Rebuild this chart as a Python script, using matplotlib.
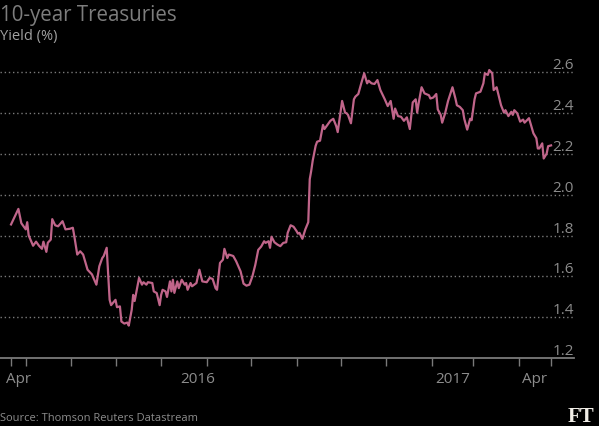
import numpy as np
import matplotlib
matplotlib.use("Agg")
import matplotlib.pyplot as plt
import matplotlib.dates as mdates
from matplotlib.transforms import offset_copy

plt.rcParams['font.family'] = ['Open Sans', 'DejaVu Sans']

# 1) Data read off the chart (days after first observation, yield %)
start_date = np.datetime64("2016-04-21")
day = [0, 5, 7, 10, 11, 12, 15, 17, 19, 21, 22, 24, 25, 27, 28, 30, 32, 35, 37, 40,
       42, 43, 45, 47, 49, 52, 55, 58, 60, 62, 63, 65, 67, 68, 71, 72, 74, 75, 77, 79,
       80, 82, 83, 84, 87, 89, 90, 92, 93, 96, 97, 99, 101, 102, 103, 105, 106, 108, 109, 110,
       111, 113, 114, 116, 118, 119, 120, 122, 123, 126, 128, 130, 133, 135, 137, 139, 140, 142, 144, 145,
       147, 148, 151, 153, 156, 158, 160, 162, 164, 166, 168, 170, 172, 173, 175, 176, 177, 179, 181, 183,
       185, 187, 188, 190, 192, 194, 195, 196, 198, 200, 202, 203, 204, 205, 207, 208, 210, 212, 213, 216,
       217, 219, 221, 222, 225, 227, 228, 229, 231, 233, 234, 236, 238, 240, 242, 243, 245, 247, 249, 251,
       254, 256, 258, 260, 261, 263, 265, 267, 269, 271, 273, 275, 276, 277, 279, 281, 284, 285, 287, 289,
       290, 292, 293, 295, 297, 300, 302, 303, 305, 307, 308, 310, 312, 313, 315, 316, 319, 321, 322, 324,
       325, 327, 328, 330, 331, 333, 335, 336, 338, 340, 341, 342, 344, 346, 348, 349, 352, 353, 355, 357,
       358, 359, 361, 362, 364, 365, 367]
yield_pct = [1.854, 1.93, 1.86, 1.83, 1.865, 1.80, 1.75, 1.77, 1.75, 1.735, 1.77, 1.72, 1.765, 1.78, 1.88, 1.85, 1.845, 1.87, 1.83, 1.833,
             1.838, 1.797, 1.707, 1.723, 1.707, 1.633, 1.61, 1.56, 1.65, 1.69, 1.70, 1.74, 1.486, 1.46, 1.486, 1.45, 1.454, 1.38, 1.37, 1.375,
             1.36, 1.437, 1.51, 1.48, 1.593, 1.56, 1.572, 1.56, 1.572, 1.568, 1.527, 1.519, 1.46, 1.51, 1.535, 1.527, 1.50, 1.576, 1.527, 1.584,
             1.52, 1.576, 1.543, 1.584, 1.56, 1.568, 1.535, 1.568, 1.552, 1.568, 1.633, 1.576, 1.572, 1.593, 1.588, 1.543, 1.535, 1.666, 1.682, 1.735,
             1.69, 1.707, 1.70, 1.674, 1.625, 1.565, 1.555, 1.56, 1.60, 1.657, 1.73, 1.746, 1.772, 1.764, 1.772, 1.74, 1.794, 1.767, 1.756, 1.748,
             1.764, 1.767, 1.813, 1.85, 1.843, 1.822, 1.809, 1.813, 1.784, 1.83, 1.865, 2.075, 2.116, 2.165, 2.238, 2.258, 2.263, 2.34, 2.32, 2.35,
             2.36, 2.37, 2.334, 2.305, 2.457, 2.40, 2.397, 2.389, 2.348, 2.465, 2.478, 2.491, 2.543, 2.592, 2.543, 2.556, 2.543, 2.54, 2.559, 2.51,
             2.465, 2.432, 2.457, 2.37, 2.42, 2.383, 2.38, 2.36, 2.377, 2.32, 2.45, 2.465, 2.40, 2.446, 2.524, 2.494, 2.485, 2.469, 2.474, 2.491,
             2.416, 2.389, 2.351, 2.397, 2.457, 2.524, 2.469, 2.436, 2.428, 2.412, 2.37, 2.317, 2.37, 2.363, 2.465, 2.494, 2.502, 2.543, 2.592, 2.584,
             2.608, 2.592, 2.51, 2.524, 2.494, 2.436, 2.40, 2.412, 2.383, 2.404, 2.389, 2.412, 2.397, 2.356, 2.366, 2.351, 2.373, 2.348, 2.299, 2.275,
             2.225, 2.225, 2.25, 2.176, 2.20, 2.236, 2.24]

y_ticks = [1.2, 1.4, 1.6, 1.8, 2.0, 2.2, 2.4, 2.6]
x_label_dates = ["2016-04-26", "2016-08-26", "2017-02-15", "2017-04-12"]
x_labels = ["Apr", "2016", "2017", "Apr"]

dates = start_date + np.array(day).astype("timedelta64[D]")
x = mdates.date2num(dates)

bg = "#000000"
text_grey = "#8c8c8c"
axis_grey = "#7a7a7a"
line_col = "#c0658a"

# 2) Figure
fig = plt.figure(figsize=(5.99, 4.26), dpi=100, facecolor=bg)
ax = fig.add_axes([0.0, 0.1587, 0.9583, 0.7019], facecolor=bg)

ax.plot(x, yield_pct, color=line_col, lw=1.6, solid_joinstyle="round", zorder=3)

ax.set_xlim(mdates.date2num(np.datetime64("2016-04-13")) + 0.5,
            mdates.date2num(np.datetime64("2017-05-08")) + 0.6)
ax.set_ylim(1.2, 2.66)

# gridlines and right-hand labels sitting on top of them
ax.set_yticks([])
for v in y_ticks:
    if v > y_ticks[0]:
        ax.axhline(v, color=axis_grey, lw=1.0, ls=(0, (1, 2)), zorder=1)
label_tr = offset_copy(ax.get_yaxis_transform(), fig=fig, x=0, y=3, units="dots")
for v in y_ticks:
    ax.text(1.0, v, f"{v:.1f}", transform=label_tr, ha="right", va="baseline",
            fontsize=11, color=text_grey)

# x axis: month tick marks, labels set separately
month_ticks = list(mdates.date2num(np.arange("2016-05", "2017-05", dtype="datetime64[M]").astype("datetime64[D]")))
ax.set_xticks([x[0]] + month_ticks + [x[-1]])
ax.set_xticks(mdates.date2num(np.array(x_label_dates, dtype="datetime64[D]")), minor=True)
ax.set_xticklabels([], minor=False)
ax.set_xticklabels(x_labels, minor=True)
ax.tick_params(axis="x", which="major", length=6, width=1, color=axis_grey, direction="out")
ax.tick_params(axis="x", which="minor", length=0, pad=10, labelsize=11, labelcolor=text_grey)

for s in ["top", "left", "right"]:
    ax.spines[s].set_visible(False)
ax.spines["bottom"].set_color(axis_grey)
ax.spines["bottom"].set_linewidth(1.3)

# 3) Titles and footer
fig.text(0.0, 0.9514, "10-year Treasuries", fontsize=14.8, color="#7d7d7d", ha="left", va="baseline")
fig.text(0.0, 0.906, "Yield (%)", fontsize=10.5, color="#a0a0a0", ha="left", va="baseline")
fig.text(0.0, 0.011, "Source: Thomson Reuters Datastream", fontsize=8, color=text_grey, ha="left", va="baseline")
fig.text(0.993, 0.009, "FT", fontsize=15, color="#f0ede6", ha="right", va="baseline",
         family=["Liberation Serif", "DejaVu Serif"], fontweight="bold")

fig.savefig("out.png", dpi=100, facecolor=bg)
